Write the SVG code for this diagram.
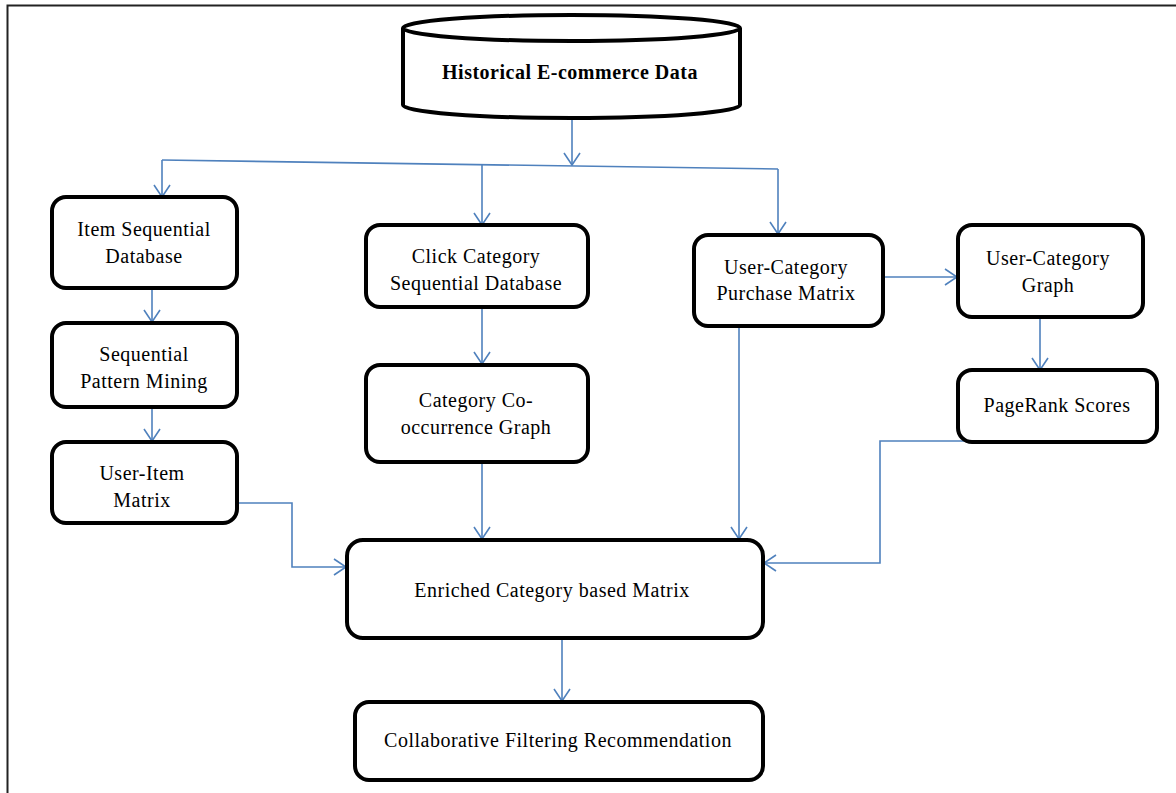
<svg xmlns="http://www.w3.org/2000/svg" width="1176" height="793" viewBox="0 0 1176 793">
<defs>
<marker id="arr" markerUnits="userSpaceOnUse" markerWidth="14" markerHeight="18" viewBox="0 0 14 18" refX="13" refY="9" orient="auto">
<path d="M1,1 L13,9 L1,17" fill="none" stroke="#4F81BD" stroke-width="1.6"/>
</marker>
<style>
.box{fill:#fff;stroke:#000;stroke-width:4}
.t{font-family:"Liberation Serif","Times New Roman",serif;font-size:20px;fill:#000;text-anchor:middle;letter-spacing:0.5px}
.b{font-weight:bold;font-size:20px}
.c{fill:none;stroke:#4F81BD;stroke-width:1.6}
</style>
</defs>
<rect x="0" y="0" width="1176" height="793" fill="#fff"/>
<g id="frame">
<path d="M7.5,793 L7.5,5.5 L1176,5.5" fill="none" stroke="#222" stroke-width="2"/>
</g>
<g id="connectors">
<path class="c" d="M572,118 L572,165" marker-end="url(#arr)"/>
<path class="c" d="M162,160 L778,169"/>
<path class="c" d="M162,160 L162,197" marker-end="url(#arr)"/>
<path class="c" d="M482,164 L482,225" marker-end="url(#arr)"/>
<path class="c" d="M778,169 L778,234" marker-end="url(#arr)"/>
<path class="c" d="M152,288 L152,322" marker-end="url(#arr)"/>
<path class="c" d="M152,407 L152,441" marker-end="url(#arr)"/>
<path class="c" d="M482,307 L482,364" marker-end="url(#arr)"/>
<path class="c" d="M883,277 L957,277" marker-end="url(#arr)"/>
<path class="c" d="M1040,317 L1040,370" marker-end="url(#arr)"/>
<path class="c" d="M237,503 L292,503 L292,567 L346,567" marker-end="url(#arr)"/>
<path class="c" d="M482,462 L482,539" marker-end="url(#arr)"/>
<path class="c" d="M739,326 L739,539" marker-end="url(#arr)"/>
<path class="c" d="M998,441 L880,441 L880,563 L764,563" marker-end="url(#arr)"/>
<path class="c" d="M562,638 L562,701" marker-end="url(#arr)"/>
</g>
<g id="historical">
<path d="M403,28 L403,105 A168.5,13 0 0 0 740,105 L740,28" fill="#fff" stroke="#000" stroke-width="4"/>
<ellipse cx="571.5" cy="28" rx="168.5" ry="13" fill="#fff" stroke="#000" stroke-width="4"/>
<text class="t b" x="570" y="79">Historical E-commerce Data</text>
</g>
<g id="item-seq">
<rect class="box" x="52" y="197" width="185" height="91" rx="14"/>
<text class="t" x="144" y="236">Item Sequential</text>
<text class="t" x="144" y="263">Database</text>
</g>
<g id="seq-pattern">
<rect class="box" x="52" y="323" width="185" height="84" rx="14"/>
<text class="t" x="144" y="361">Sequential</text>
<text class="t" x="144" y="388">Pattern Mining</text>
</g>
<g id="user-item">
<rect class="box" x="52" y="442" width="185" height="81" rx="14"/>
<text class="t" x="142" y="480">User-Item</text>
<text class="t" x="142" y="507">Matrix</text>
</g>
<g id="click-cat">
<rect class="box" x="366" y="225" width="222" height="82" rx="14"/>
<text class="t" x="476" y="263">Click Category</text>
<text class="t" x="476" y="290">Sequential Database</text>
</g>
<g id="co-occ">
<rect class="box" x="366" y="365" width="222" height="97" rx="14"/>
<text class="t" x="476" y="407">Category Co-</text>
<text class="t" x="476" y="434">occurrence Graph</text>
</g>
<g id="purchase">
<rect class="box" x="694" y="235" width="189" height="91" rx="14"/>
<text class="t" x="786" y="274">User-Category</text>
<text class="t" x="786" y="300">Purchase Matrix</text>
</g>
<g id="uc-graph">
<rect class="box" x="958" y="225" width="185" height="92" rx="14"/>
<text class="t" x="1048" y="265">User-Category</text>
<text class="t" x="1048" y="292">Graph</text>
</g>
<g id="pagerank">
<rect class="box" x="958" y="370" width="199" height="72" rx="14"/>
<text class="t" x="1057" y="412">PageRank Scores</text>
</g>
<g id="enriched">
<rect class="box" x="347" y="540" width="416" height="98" rx="16"/>
<text class="t" x="552" y="597">Enriched Category based Matrix</text>
</g>
<g id="cf">
<rect class="box" x="355" y="702" width="408" height="78" rx="14"/>
<text class="t" x="558" y="747">Collaborative Filtering Recommendation</text>
</g>
</svg>
